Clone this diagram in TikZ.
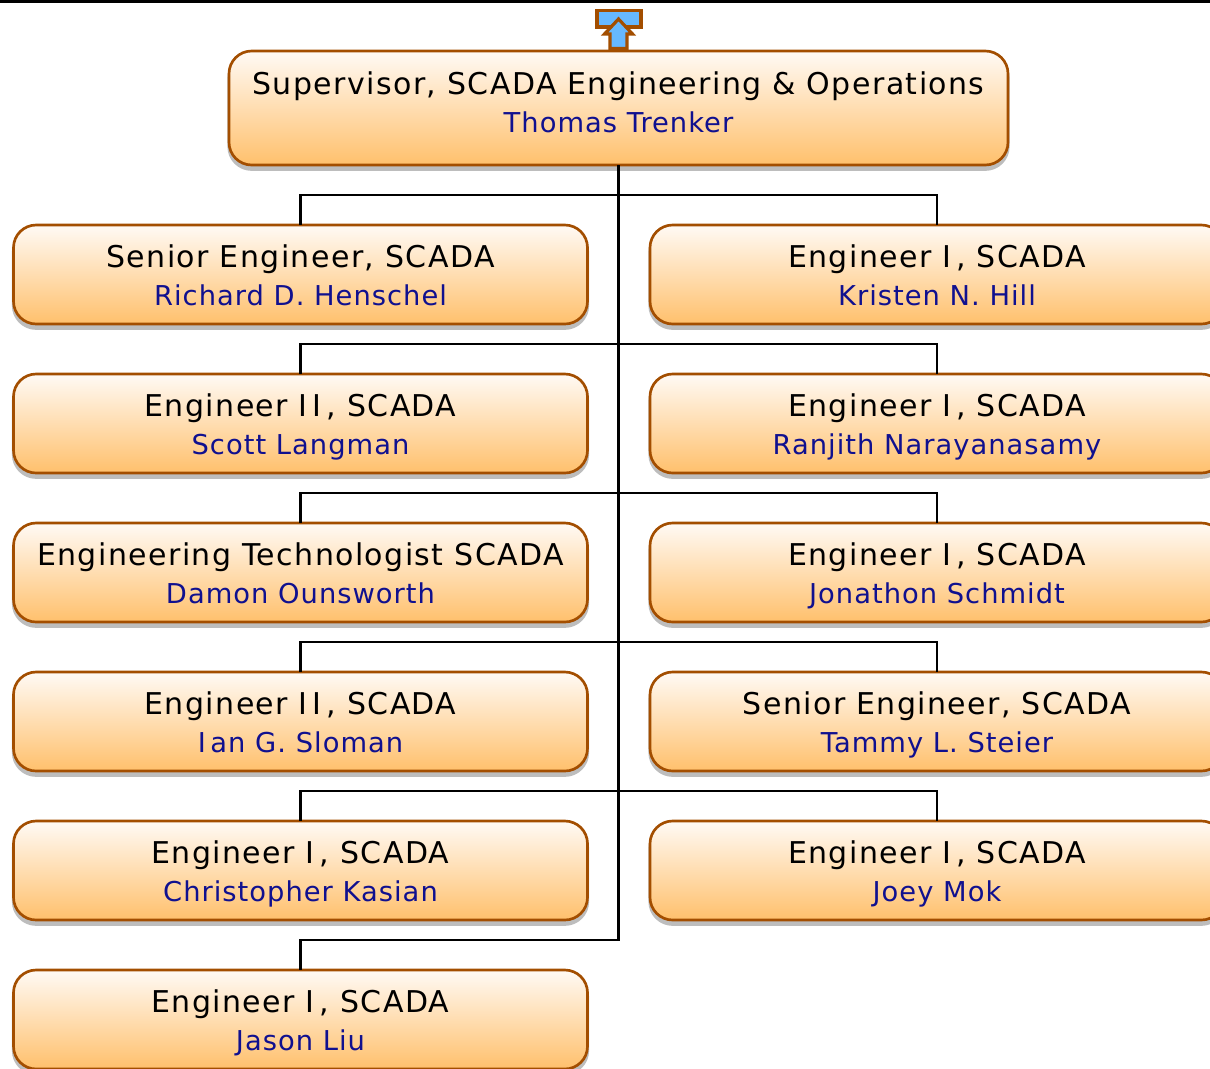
\documentclass[tikz,border=0pt]{standalone}
\usepackage{fontspec}
\setmainfont{DejaVu Sans}[LetterSpace=4.7]
\newfontfamily\namefont{DejaVu Sans}[LetterSpace=3.7]
\usetikzlibrary{positioning,shadows}
\definecolor{rimbrown}{HTML}{A34E00}
\definecolor{iconblue}{HTML}{66B8FF}
\definecolor{nameblue}{HTML}{10108F}
\definecolor{shadowgrey}{HTML}{BDBDBD}
\definecolor{boxtop}{HTML}{FFFAF5}
\definecolor{boxbottom}{HTML}{FFC06C}
\tikzset{
  posbox/.style={rectangle,rounded corners=17pt,draw=rimbrown,line width=2pt,
    top color=boxtop,bottom color=boxbottom,align=center,outer sep=0pt,
    minimum width=430.5pt,minimum height=74.25pt,inner sep=0pt,
    font=\fontsize{22.5}{28}\selectfont,
    general shadow={fill=shadowgrey,draw=shadowgrey,line width=2.4pt,shadow yshift=-3.2pt}},
  conn/.style={draw=black,line width=1.8pt},
  icon/.style={draw=rimbrown,line width=2.4pt,fill=iconblue,line join=miter}
}
\newcommand{\who}[2][6pt]{\rule{0pt}{24.4pt}\\[0.5pt]{\fontsize{20.5}{24}\selectfont\namefont\color{nameblue}#2\rule[-#1]{0pt}{0pt}}}
\begin{document}
\begin{tikzpicture}[x=0.75pt,y=-0.75pt]
\useasboundingbox (0,0) rectangle (1210,1068);

\draw [conn,line width=2.2pt] (0,1.2) -- (1210,1.2);

\node [posbox,minimum width=584.25pt,minimum height=85.5pt] (sup) at (618.5,108)
  {Supervisor, SCADA Engineering \& Operations\who[15.7pt]{Thomas Trenker}};

% linke spalte
\node [posbox] (rich) at (300.5,274.5) {Senior Engineer, SCADA\who{Richard D. Henschel}};
\node [posbox,below=37.5pt of rich] (scott) {Engineer I\,I\,, SCADA\who{Scott Langman}};
\node [posbox,below=37.5pt of scott] (damon) {Engineering Technologist SCADA\who{Damon Ounsworth}};
\node [posbox,below=37.5pt of damon] (ian) {Engineer I\,I\,, SCADA\who{I\,an G. Sloman}};
\node [posbox,below=37.5pt of ian] (chris) {Engineer I\,, SCADA\who{Christopher Kasian}};
\node [posbox,below=37.5pt of chris] (jason) {Engineer I\,, SCADA\who{Jason Liu}};

% rechte spalte
\node [posbox] (kristen) at (937,274.5) {Engineer I\,, SCADA\who{Kristen N. Hill}};
\node [posbox,below=37.5pt of kristen] (ranjith) {Engineer I\,, SCADA\who{Ranjith Narayanasamy}};
\node [posbox,below=37.5pt of ranjith] (jon) {Engineer I\,, SCADA\who{Jonathon Schmidt}};
\node [posbox,below=37.5pt of jon] (tammy) {Senior Engineer, SCADA\who{Tammy L. Steier}};
\node [posbox,below=37.5pt of tammy] (joey) {Engineer I\,, SCADA\who{Joey Mok}};

% abzweige
\coordinate (bus1) at ([yshift=22.5pt]sup.south |- rich.north);
\coordinate (bus2) at ([yshift=22.5pt]sup.south |- scott.north);
\coordinate (bus3) at ([yshift=22.5pt]sup.south |- damon.north);
\coordinate (bus4) at ([yshift=22.5pt]sup.south |- ian.north);
\coordinate (bus5) at ([yshift=22.5pt]sup.south |- chris.north);
\coordinate (bus6) at ([yshift=22.5pt]sup.south |- jason.north);

\draw [conn] (sup.south) -- (bus6) -| (jason.north);
\draw [conn] (rich.north) |- (bus1) -| (kristen.north);
\draw [conn] (scott.north) |- (bus2) -| (ranjith.north);
\draw [conn] (damon.north) |- (bus3) -| (jon.north);
\draw [conn] (ian.north) |- (bus4) -| (tammy.north);
\draw [conn] (chris.north) |- (bus5) -| (joey.north);

% symbol oben
\draw [icon] (597,10.5) rectangle (641,27);
\draw [icon] (618.5,19) -- (632.5,34) -- (627,34) -- (627,48.5) -- (610,48.5) -- (610,34) -- (604.5,34) -- cycle;

\end{tikzpicture}
\end{document}
